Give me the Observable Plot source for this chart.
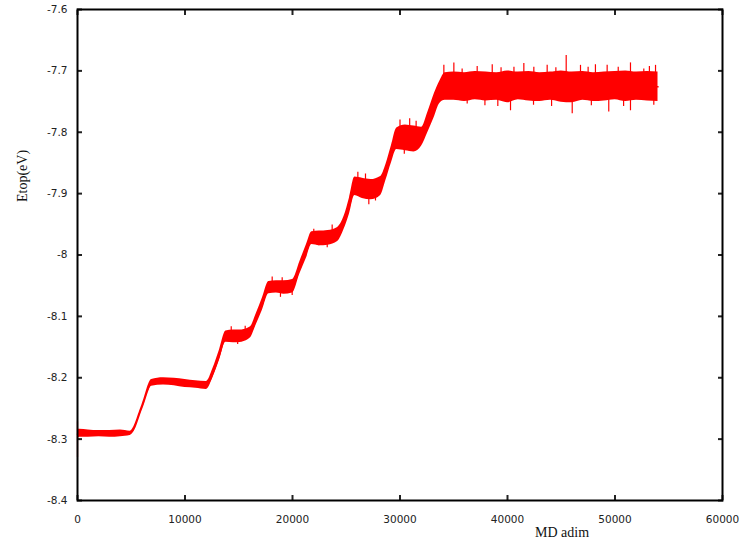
<!DOCTYPE html>
<html>
<head>
<meta charset="utf-8">
<script src="https://cdn.jsdelivr.net/npm/d3@7"></script>
<script src="https://cdn.jsdelivr.net/npm/@observablehq/plot@0.6"></script>
<style>
  html, body { margin: 0; padding: 0; background: #fff; }
  #chart { width: 744px; height: 544px; }
</style>
</head>
<body>
<div id="chart"></div>
<script>
// x positions (MD adim)
const steps = [0, 200, 1000, 2000, 3000, 4000, 4900, 6000, 6900, 8000, 9000, 10000, 11000, 12000,
  12600, 13200, 13800, 14500, 15300, 16100, 16600, 17200, 17800, 18500, 19200, 20000,
  20700, 21300, 21800, 22500, 23300, 24200, 24800, 25300, 25800, 26500, 27300, 28200,
  28700, 29200, 29700, 30500, 31300, 32000, 32600, 33200, 33700, 34200,
  35000, 36000, 37000, 38000, 39000, 40000, 41000, 42000, 43000, 44000, 45000, 46000,
  47000, 48000, 49000, 50000, 51000, 52000, 53000, 54000];
// lower envelope of the noisy Etop trace (eV)
const etopLow = [-8.300, -8.297, -8.297, -8.296, -8.297, -8.296, -8.294, -8.252, -8.214, -8.212, -8.213, -8.216, -8.217, -8.219,
  -8.200, -8.172, -8.142, -8.143, -8.142, -8.135, -8.115, -8.090, -8.063, -8.062, -8.064, -8.062,
  -8.030, -8.005, -7.983, -7.985, -7.984, -7.978, -7.958, -7.933, -7.903, -7.908, -7.910, -7.903,
  -7.878, -7.850, -7.828, -7.830, -7.832, -7.823, -7.800, -7.775, -7.753, -7.748,
  -7.748, -7.750, -7.747, -7.749, -7.748, -7.752, -7.747, -7.749, -7.750, -7.748, -7.751, -7.752,
  -7.748, -7.750, -7.749, -7.747, -7.750, -7.748, -7.749, -7.750];
// upper envelope of the noisy Etop trace (eV)
const etopHigh = [-8.284, -8.284, -8.285, -8.286, -8.286, -8.285, -8.287, -8.244, -8.203, -8.200, -8.201, -8.203, -8.205, -8.206,
  -8.185, -8.155, -8.124, -8.122, -8.122, -8.117, -8.097, -8.070, -8.043, -8.042, -8.042, -8.040,
  -8.010, -7.983, -7.962, -7.961, -7.960, -7.955, -7.937, -7.907, -7.873, -7.875, -7.877, -7.872,
  -7.852, -7.822, -7.793, -7.788, -7.790, -7.792, -7.767, -7.737, -7.717, -7.703,
  -7.702, -7.703, -7.701, -7.702, -7.703, -7.700, -7.702, -7.701, -7.703, -7.702, -7.700, -7.702,
  -7.701, -7.703, -7.702, -7.701, -7.700, -7.702, -7.701, -7.702];
// isolated noise spikes: position, low end, high end (eV)
const spikeX = [0, 18110, 19040, 18880, 19970, 14300, 15600, 14900, 21980, 23690, 23230, 22450,
  26080, 26790, 27100, 27720, 30000, 30900, 31500, 30400,
  34080, 35010, 35780, 37180, 38580, 39400, 40600, 41520, 42450, 43690, 44500, 45460, 46790, 47500, 48180,
  49270, 50300, 51440, 52680, 53200, 53770,
  36250, 37900, 39100, 40280, 42420, 44100, 46020, 47800, 49420, 50800, 51440, 53610];
const spikeLow = [-8.330, -8.050, -8.050, -8.069, -8.066, -8.130, -8.130, -8.146, -7.970, -7.970, -7.988, -7.985,
  -7.890, -7.890, -7.918, -7.912, -7.810, -7.810, -7.810, -7.836,
  -7.725, -7.725, -7.725, -7.725, -7.725, -7.725, -7.725, -7.725, -7.725, -7.725, -7.725, -7.725, -7.725, -7.725, -7.725,
  -7.725, -7.725, -7.725, -7.725, -7.725, -7.725,
  -7.754, -7.757, -7.758, -7.765, -7.756, -7.758, -7.770, -7.757, -7.767, -7.758, -7.765, -7.756];
const spikeHigh = [-8.272, -8.036, -8.037, -8.050, -8.050, -8.117, -8.116, -8.130, -7.958, -7.951, -7.970, -7.970,
  -7.865, -7.868, -7.890, -7.890, -7.780, -7.778, -7.782, -7.810,
  -7.691, -7.687, -7.697, -7.693, -7.690, -7.695, -7.694, -7.688, -7.694, -7.691, -7.695, -7.675, -7.691, -7.694, -7.690,
  -7.691, -7.694, -7.687, -7.697, -7.693, -7.691,
  -7.725, -7.725, -7.725, -7.725, -7.725, -7.725, -7.725, -7.725, -7.725, -7.725, -7.725, -7.725];

const xTicks = [0, 10000, 20000, 30000, 40000, 50000, 60000];
const yTicks = [-8.4, -8.3, -8.2, -8.1, -8, -7.9, -7.8, -7.7, -7.6];
const xLabel = "MD adim";
const yLabel = "Etop(eV)";

const trace = steps.map((x, i) => ({x, lo: etopLow[i], hi: etopHigh[i], mid: (etopLow[i] + etopHigh[i]) / 2}));
const spikes = spikeX.map((x, i) => ({x, y1: spikeLow[i], y2: spikeHigh[i]}));

const fmtY = d => { const s = d.toFixed(1); return s === "-8.0" ? "-8" : s; };
const fmtX = d => String(d);
const none = () => "";

const chart = Plot.plot({
  width: 744,
  height: 544,
  marginLeft: 77,
  marginRight: 22,
  marginTop: 9,
  marginBottom: 44,
  style: {background: "#fff", fontFamily: "DejaVu Sans", fontSize: "10.5px", color: "#222"},
  x: {domain: [0, 60000]},
  y: {domain: [-8.4, -7.6]},
  marks: [
    Plot.areaY(trace, {x: "x", y1: "lo", y2: "hi", fill: "#ff0000", curve: "monotone-x"}),
    Plot.line(trace, {x: "x", y: "mid", stroke: "#ff0000", strokeWidth: 1.5, curve: "monotone-x"}),
    Plot.ruleX(spikes, {x: "x", y1: "y1", y2: "y2", stroke: "#ff0000", strokeWidth: 1.2}),
    // inward tick marks on all four sides
    Plot.axisY({anchor: "left", ticks: yTicks, tickSize: 5, dx: 5, strokeWidth: 2, tickFormat: none, label: null}),
    Plot.axisY({anchor: "right", ticks: yTicks, tickSize: 5, dx: -5, strokeWidth: 2, tickFormat: none, label: null}),
    Plot.axisX({anchor: "bottom", ticks: xTicks, tickSize: 5, dy: -5, strokeWidth: 2, tickFormat: none, label: null}),
    Plot.axisX({anchor: "top", ticks: xTicks, tickSize: 5, dy: 5, strokeWidth: 2, tickFormat: none, label: null}),
    // tick labels
    Plot.axisY({anchor: "left", ticks: yTicks, tickSize: 0, tickPadding: 10, tickFormat: fmtY, label: null}),
    Plot.axisX({anchor: "bottom", ticks: xTicks, tickSize: 0, tickPadding: 15, tickFormat: fmtX, label: null}),
    Plot.frame({stroke: "#000", strokeWidth: 2}),
    // axis titles
    Plot.text([xLabel], {frameAnchor: "bottom", text: d => d, dx: 162, dy: 36, fontFamily: "Liberation Serif", fontSize: 14, fill: "#111"}),
    Plot.text([yLabel], {frameAnchor: "left", text: d => d, rotate: -90, dx: -55, dy: -53, fontFamily: "Liberation Serif", fontSize: 14, fill: "#111"})
  ]
});
document.getElementById("chart").appendChild(chart);
</script>
</body>
</html>
